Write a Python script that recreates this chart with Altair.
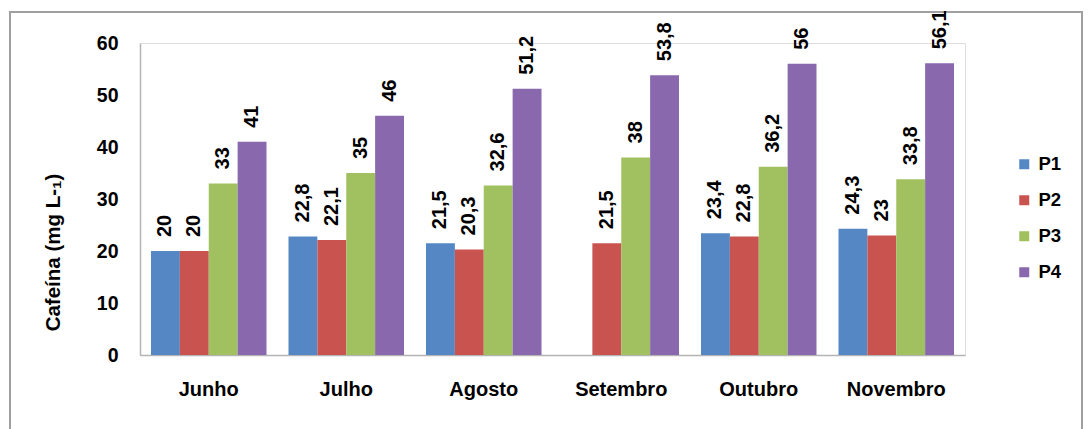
import altair as alt
import pandas as pd

# Caffeine concentration per sampling point and month
months = ["Junho", "Julho", "Agosto", "Setembro", "Outubro", "Novembro"]
series = ["P1", "P2", "P3", "P4"]
p1 = [20, 22.8, 21.5, None, 23.4, 24.3]
p2 = [20, 22.1, 20.3, 21.5, 22.8, 23]
p3 = [33, 35, 32.6, 38, 36.2, 33.8]
p4 = [41, 46, 51.2, 53.8, 56, 56.1]
colors = ["#5487C4", "#C9534F", "#A1C160", "#8968AE"]
y_ticks = [0, 10, 20, 30, 40, 50, 60]

rows = []
for s, vals in zip(series, [p1, p2, p3, p4]):
    for m, v in zip(months, vals):
        if v is None:
            continue
        rows.append({"mes": m, "ponto": s, "cafeina": v,
                     "rotulo": f"{v:g}".replace(".", ",")})
df = pd.DataFrame(rows)

FONT = "Liberation Sans"
W, H = 825, 312
AXIS_GRAY = "#B4B4B4"

x = alt.X(
    "mes:N", sort=months,
    scale=alt.Scale(paddingInner=0.16, paddingOuter=0.08),
    axis=alt.Axis(title=None, labelAngle=0, ticks=False, labelPadding=24,
                  labelFontSize=20, labelFontWeight="bold", labelColor="black",
                  labelFont=FONT, domainColor=AXIS_GRAY, domainWidth=1.5),
)
xo = alt.XOffset("ponto:N", sort=series,
                 scale=alt.Scale(domain=series, paddingInner=0, paddingOuter=0))
y = alt.Y(
    "cafeina:Q",
    scale=alt.Scale(domain=[0, 60], nice=False),
    axis=alt.Axis(values=y_ticks, title="Cafeína (mg L-₁)", grid=False, ticks=False,
                  labelPadding=22, labelFontSize=19.5, labelFontWeight="bold",
                  labelColor="black", labelFont=FONT,
                  domainColor=AXIS_GRAY, domainWidth=1.5,
                  titleFont=FONT, titleFontSize=20.5, titleFontWeight="bold",
                  titleColor="black", titleAngle=270, titleX=-87, titleY=209,
                  titleAlign="center", titleBaseline="middle"),
)
color = alt.Color(
    "ponto:N",
    scale=alt.Scale(domain=series, range=colors),
    legend=alt.Legend(title=None, orient="none", legendX=875, legendY=112,
                      symbolType="square", symbolSize=100, symbolStrokeWidth=0,
                      labelFontSize=18.5, labelFontWeight="bold", labelFont=FONT,
                      labelColor="black", rowPadding=17, labelOffset=5),
)

bars = alt.Chart(df).mark_bar().encode(x=x, xOffset=xo, y=y, color=color)

labels = alt.Chart(df).mark_text(
    angle=270, align="left", baseline="middle", dx=14,
    fontSize=20, fontWeight="bold", font=FONT, color="black",
).encode(x=x, xOffset=xo, y=y, text="rotulo:N")

# outer frame around the whole figure
frame = alt.Chart(alt.Data(values=[{"k": 1}])).mark_rect(
    filled=False, stroke="#A0A0A0", strokeWidth=2,
).encode(x=alt.value(-130), x2=alt.value(942), y=alt.value(-31), y2=alt.value(420))

chart = alt.layer(frame, bars, labels).properties(
    width=W, height=H,
    autosize=alt.AutoSizeParams(type="none"),
    padding={"left": 140, "top": 43, "right": 126, "bottom": 74},
).configure_view(stroke=None).configure(background="white")

chart.save("out.html", embed_options={"renderer": "svg", "actions": False})
